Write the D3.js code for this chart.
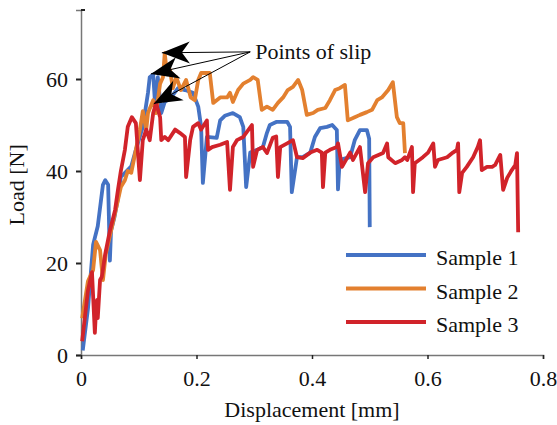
<!DOCTYPE html>
<html>
<head>
<meta charset="utf-8">
<script src="https://cdn.jsdelivr.net/npm/d3@7"></script>
<style>
  body { margin: 0; background: #fff; }
  text { font-family: "Liberation Serif", "Times New Roman", serif; fill: #111; }
</style>
</head>
<body>
<div id="chart"></div>
<script>
// data: [displacement mm, load N]
const seriesNames = ["Sample 1", "Sample 2", "Sample 3"];

const sample1 = [[0.003,1],[0.012,10],[0.021,24],[0.029,28],[0.038,37],[0.042,38],[0.047,37],[0.050,20.5],[0.052,27],
  [0.058,30],[0.064,34],[0.069,38.7],[0.087,41],[0.095,44.6],[0.107,49.6],[0.116,57],[0.119,60.4],[0.125,61],[0.128,55],
  [0.133,60.4],[0.139,52.6],[0.145,55],[0.156,56],[0.168,58],[0.180,57.6],[0.194,57],[0.203,54],[0.208,49.6],[0.211,37.4],
  [0.218,47.4],[0.235,47.2],[0.241,51],[0.249,52],[0.263,52.6],[0.275,51.7],[0.281,49.6],[0.286,36.5],[0.293,44],
  [0.305,44.6],[0.315,45.2],[0.322,48.3],[0.327,50],[0.339,50.7],[0.357,50.7],[0.362,49.6],[0.365,35.4],[0.374,43],
  [0.384,43],[0.397,44],[0.405,47.4],[0.414,49.3],[0.426,49.6],[0.435,50],[0.443,48.9],[0.445,36],[0.448,42.4],
  [0.466,43],[0.474,46.7],[0.483,48.9],[0.495,48.9],[0.499,47],[0.500,27.8]];

const sample2 = [[0.002,8],[0.012,16],[0.021,18.5],[0.026,24.6],[0.033,22.8],[0.038,16.3],[0.043,22],[0.052,27],
  [0.064,33.7],[0.069,36.5],[0.076,38],[0.081,40],[0.087,39.6],[0.095,44.6],[0.102,49],[0.107,53],[0.113,49],[0.116,52.6],
  [0.125,55.4],[0.130,52.6],[0.137,59],[0.142,60.4],[0.145,65.6],[0.149,61],[0.154,62],[0.159,58],[0.165,60.4],
  [0.173,57.6],[0.182,59.8],[0.190,56],[0.197,55.4],[0.203,59.8],[0.208,61.3],[0.223,61.3],[0.229,54.8],[0.241,56],
  [0.253,56],[0.258,57],[0.263,55],[0.272,57.6],[0.281,59],[0.293,59.8],[0.298,60.4],[0.306,59.8],[0.313,53.3],
  [0.322,54],[0.332,53.3],[0.341,54.8],[0.350,56],[0.358,57.6],[0.367,58.3],[0.376,59.8],[0.383,57.6],[0.391,52.2],
  [0.402,52.6],[0.410,53.3],[0.423,53.7],[0.431,55.4],[0.440,57.6],[0.448,58],[0.457,58.7],[0.462,51],[0.474,51.7],
  [0.483,52.2],[0.495,52.8],[0.504,53.3],[0.513,55.4],[0.521,56],[0.532,57.6],[0.540,59.3],[0.547,51.7],[0.552,50.4],
  [0.558,50.4],[0.561,43.9]];

const sample3 = [[0.002,3],[0.012,14],[0.019,18],[0.024,4.8],[0.026,9.8],[0.028,12],[0.029,8],[0.033,16.3],[0.036,17],
  [0.042,22],[0.050,27],[0.059,31.5],[0.064,35.9],[0.069,40],[0.076,44.6],[0.081,49.6],[0.088,51.7],[0.095,50.4],
  [0.102,38],[0.107,46.7],[0.113,49],[0.119,46.7],[0.125,52.6],[0.130,54.8],[0.137,51.7],[0.139,46.7],[0.145,47.4],
  [0.151,46.7],[0.163,49],[0.171,48.3],[0.180,47.4],[0.182,38.7],[0.189,46.7],[0.194,49.6],[0.203,50.4],[0.208,49],
  [0.211,49.6],[0.218,51],[0.220,44.6],[0.227,45.2],[0.241,45.7],[0.253,46.3],[0.258,35.9],[0.263,45.2],[0.270,46.7],
  [0.281,47.4],[0.296,50],[0.298,40.9],[0.305,44.6],[0.315,45.2],[0.322,43.9],[0.332,47.2],[0.338,47.5],[0.341,38.7],
  [0.345,45.2],[0.357,46],[0.367,46.7],[0.374,43],[0.384,42.8],[0.397,44],[0.409,44.6],[0.417,44],[0.419,36.5],
  [0.423,44],[0.431,44.6],[0.443,45.2],[0.445,46],[0.452,40.9],[0.466,44],[0.471,42.4],[0.483,45.2],[0.492,35.4],
  [0.497,41.7],[0.506,43],[0.523,43.9],[0.530,46],[0.532,43],[0.544,41.7],[0.556,42.4],[0.561,43],[0.565,42.4],
  [0.573,45.2],[0.575,35.4],[0.578,41.7],[0.592,43],[0.601,44],[0.610,46],[0.613,40.9],[0.618,42.4],[0.634,43],
  [0.644,44],[0.651,44.6],[0.653,46],[0.655,35.4],[0.660,39.6],[0.668,40.9],[0.679,43],[0.687,45.2],[0.691,46.7],
  [0.694,40.2],[0.703,40.9],[0.712,40.9],[0.717,41.3],[0.726,43.5],[0.731,35.9],[0.738,38.5],[0.746,40.2],
  [0.752,41.3],[0.755,43.9],[0.757,26.7]];

const xTicks = [0, 0.2, 0.4, 0.6, 0.8];
const yTicks = [0, 20, 40, 60];

// annotation: where the arrows start and the three slip points they point at
const slipLabel = "Points of slip";
const slipFrom = [0.293, 65.9];
const slipPoints = [[0.140, 65.7], [0.121, 61.1], [0.126, 54.6]];

// set the dimensions and margins of the graph
const width = 557, height = 425;
const margin = {top: 10, right: 14, bottom: 70, left: 81};
const fontSize = "22px";

const svg = d3.select("#chart")
  .append("svg")
    .attr("width", width)
    .attr("height", height);

const x = d3.scaleLinear().domain([0, 0.8]).range([margin.left, width - margin.right]);
const y = d3.scaleLinear().domain([0, 75]).range([height - margin.bottom, margin.top]);

const colors = ["#4472C4", "#E3802F", "#D1232A"];

// axes (gray line, dark small ticks like Excel)
const yAxis = svg.append("g")
  .attr("transform", `translate(${margin.left},0)`)
  .call(d3.axisLeft(y).tickValues(yTicks).tickSize(5).tickPadding(8).tickFormat(d3.format("d")));
yAxis.select(".domain").attr("stroke", "#777").attr("stroke-width", 1.5);
yAxis.selectAll(".tick line").attr("stroke", "#222").attr("stroke-width", 2);
yAxis.selectAll(".tick text").style("font-size", fontSize).attr("fill", "#111");

const xAxis = svg.append("g")
  .attr("transform", `translate(0,${height - margin.bottom})`)
  .call(d3.axisBottom(x).tickValues(xTicks).tickSize(4).tickPadding(11).tickFormat(d => d === 0 ? "0" : d3.format(".1f")(d)));
xAxis.select(".domain").attr("stroke", "#777").attr("stroke-width", 1.5);
xAxis.selectAll(".tick line").attr("stroke", "#222").attr("stroke-width", 1.5);
xAxis.selectAll(".tick text").style("font-size", fontSize).attr("fill", "#111");

// little end mark at top of y axis
svg.append("line")
  .attr("x1", x(0)).attr("x2", x(0) + 4)
  .attr("y1", y(75)).attr("y2", y(75))
  .attr("stroke", "#222").attr("stroke-width", 2);

// axis titles
svg.append("text")
  .attr("x", (x(0) + x(0.8)) / 2)
  .attr("y", 417)
  .attr("text-anchor", "middle")
  .style("font-size", fontSize)
  .text("Displacement [mm]");

svg.append("text")
  .attr("transform", `translate(24,${y(37)}) rotate(-90)`)
  .attr("text-anchor", "middle")
  .style("font-size", fontSize)
  .text("Load [N]");

// the three load curves
const line = d3.line().x(d => x(d[0])).y(d => y(d[1]));
const allSeries = [sample1, sample2, sample3];

svg.selectAll("path.series")
  .data(allSeries)
  .enter()
  .append("path")
    .attr("class", "series")
    .attr("d", line)
    .attr("fill", "none")
    .attr("stroke", (d, i) => colors[i])
    .attr("stroke-width", 3.8)
    .attr("stroke-linejoin", "round");

// arrows for the slip points
svg.append("defs").append("marker")
  .attr("id", "stealth")
  .attr("markerUnits", "userSpaceOnUse")
  .attr("viewBox", "-30 -12 32 24")
  .attr("markerWidth", 32)
  .attr("markerHeight", 24)
  .attr("refX", 0).attr("refY", 0)
  .attr("orient", "auto")
  .append("path")
    .attr("d", "M0,0 L-28,-11 L-20,0 L-28,11 Z")
    .attr("fill", "#000");

svg.selectAll("line.slip")
  .data(slipPoints)
  .enter()
  .append("line")
    .attr("class", "slip")
    .attr("x1", x(slipFrom[0])).attr("y1", y(slipFrom[1]))
    .attr("x2", d => x(d[0])).attr("y2", d => y(d[1]))
    .attr("stroke", "#000")
    .attr("stroke-width", 1)
    .attr("marker-end", "url(#stealth)");

svg.append("text")
  .attr("x", x(slipFrom[0]) + 5)
  .attr("y", y(slipFrom[1]) + 7)
  .style("font-size", fontSize)
  .text(slipLabel);

// legend
const legend = svg.selectAll("g.legend")
  .data(seriesNames)
  .enter()
  .append("g")
    .attr("class", "legend")
    .attr("transform", (d, i) => `translate(346,${255 + i * 33.5})`);

legend.append("line")
  .attr("x1", 0).attr("x2", 80)
  .attr("stroke", (d, i) => colors[i])
  .attr("stroke-width", 3.8);

legend.append("text")
  .attr("x", 90)
  .attr("y", 10)
  .style("font-size", fontSize)
  .text(d => d);
</script>
</body>
</html>
